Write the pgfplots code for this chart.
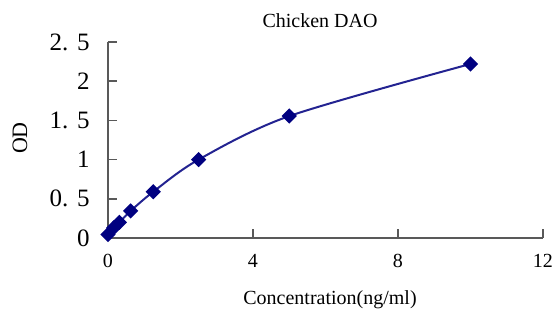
\documentclass[border=0pt]{standalone}
\usepackage{fontspec}
\setmainfont{Liberation Serif}
\usepackage{pgfplots}
\pgfplotsset{compat=1.18}
\definecolor{navyline}{RGB}{35,35,145}
\definecolor{navymark}{RGB}{0,0,128}
\begin{document}
\begin{tikzpicture}
\useasboundingbox (-54pt,-36.5pt) rectangle (223pt,119pt);
\begin{axis}[
  at={(0pt,0pt)}, anchor=south west,
  scale only axis, width=217.5pt, height=98pt,
  xmin=0, xmax=12, ymin=0, ymax=2.5,
  axis lines=left,
  axis line style={-, black!65, line width=0.8pt},
  clip=false,
  xtick={0,4,8,12},
  ytick={0,0.5,1,1.5,2,2.5},
  yticklabels={0,{0.\hspace{0.35em}5},1,{1.\hspace{0.35em}5},2,{2.\hspace{0.35em}5}},
  tick align=inside,
  major tick length=4.5pt,
  tick style={black!65, line width=0.8pt},
  xtick pos=bottom, ytick pos=left,
  /pgf/number format/assume math mode=true,
  yticklabel style={anchor=east, inner sep=0pt, xshift=-9pt, font=\fontsize{12.5pt}{14pt}\selectfont},
  xticklabel style={anchor=north, inner sep=0pt, yshift=-8pt, font=\fontsize{10pt}{12pt}\selectfont},
]
\addplot[navyline, line width=1pt, smooth, tension=0.5,
  mark=square*, mark size=2.2pt, mark options={fill=navymark, draw=navymark, rotate=45}]
  coordinates {
  (0,0.045) (0.156,0.13) (0.3125,0.2) (0.625,0.345) (1.25,0.59)
  (2.5,1.0) (5,1.555) (10,2.22)
  };
\end{axis}
\node[anchor=base, inner sep=0pt, font=\fontsize{10pt}{12pt}\selectfont] at (106pt,105pt) {Chicken DAO};
\node[anchor=base, inner sep=0pt, font=\fontsize{10pt}{12pt}\selectfont] at (111pt,-33.5pt) {Concentration(ng/ml)};
\node[rotate=90, inner sep=0pt, font=\fontsize{11pt}{12pt}\selectfont] at (-44pt,50pt) {OD};
\end{tikzpicture}
\end{document}
